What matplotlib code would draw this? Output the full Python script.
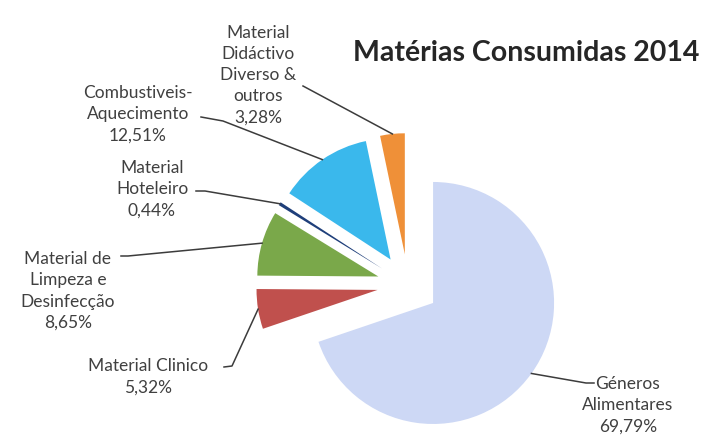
import matplotlib.pyplot as plt
import numpy as np

plt.rcParams["font.family"] = ["Lato", "DejaVu Sans"]

categories = [
    "Géneros\nAlimentares",
    "Material Clinico",
    "Material de\nLimpeza e\nDesinfecção",
    "Material\nHoteleiro",
    "Combustiveis-\nAquecimento",
    "Material\nDidáctivo\nDiverso &\noutros",
]
shares = [69.79, 5.32, 8.65, 0.44, 12.51, 3.28]
colors = ["#cdd8f5", "#c0504d", "#7aa84a", "#1f3f7a", "#3ab8ec", "#ef9038"]

# label centres and leader elbows/ends, in pixel coords (origin top-left)
label_pos = [(628, 405), (148, 377), (68, 291), (152, 189), (138, 114), (258, 75)]
leader_pts = [
    [(586, 383), (594, 383)],
    [(232, 366), (224, 367)],
    [(128, 256), (121, 256)],
    [(205, 191), (196, 191)],
    [(223, 121), (201, 117)],
    [(303, 86)],
]

R = 121
fig = plt.figure(figsize=(7.12, 4.37), dpi=100)
ax = fig.add_axes([0, 0, 1, 1])

wedges, _ = ax.pie(
    shares,
    colors=colors,
    radius=R,
    center=(408, 285),
    explode=[0.255 * R] * len(shares),
    startangle=-90,
    counterclock=True,
    wedgeprops=dict(linewidth=0),
)
ax.set_xlim(0, 712)
ax.set_ylim(437, 0)
ax.set_aspect("equal")
ax.axis("off")

for w, name, val, pos, pts in zip(wedges, categories, shares, label_pos, leader_pts):
    mid = np.deg2rad((w.theta1 + w.theta2) / 2)
    cx, cy = w.center
    anchor = (cx + w.r * np.cos(mid), cy + w.r * np.sin(mid))
    line = [anchor] + pts
    ax.plot([p[0] for p in line], [p[1] for p in line], color="#3c3c3c", lw=1.1)
    txt = f"{name}\n{val:.2f}%".replace(".", ",")
    ax.text(pos[0], pos[1], txt, ha="center", va="center", fontsize=12.5,
            color="#404040", linespacing=1.4)

ax.text(526, 53, "Matérias Consumidas 2014", ha="center", va="center",
        fontsize=20.5, fontweight="bold", color="#262626")

fig.savefig("out.png", dpi=100)
